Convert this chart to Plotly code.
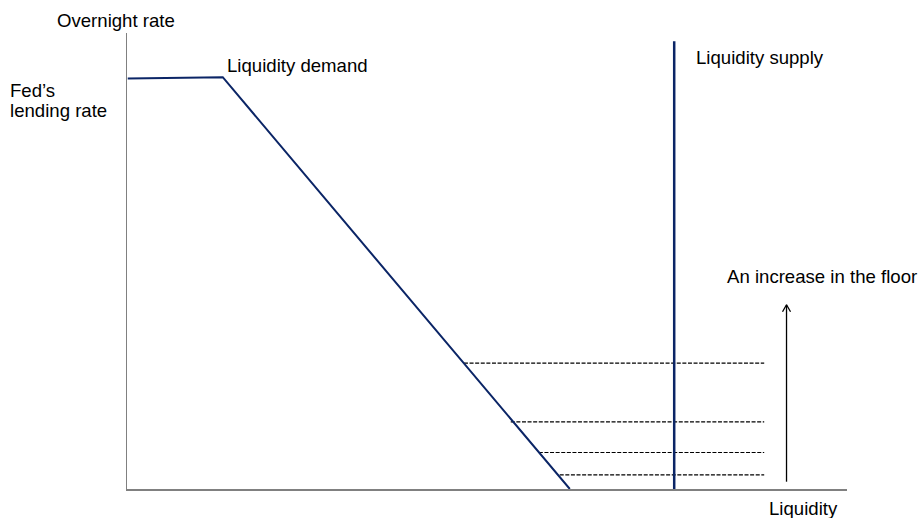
import plotly.graph_objects as go

# ---- data (axis units: x 0..100 liquidity, y 0..100 overnight rate) ----
demand_x = [0.1, 13.3, 61.5]
demand_y = [90.0, 90.3, 0.0]

supply_x = [76.0, 76.0]
supply_y = [0.0, 98.2]

floor_levels = [27.6, 14.7, 8.0, 3.1]
floor_start_x = [46.8, 53.3, 57.2, 60.1]
floor_end_x = 88.5

arrow_x = 91.6
arrow_y0 = 1.6
arrow_y1 = 40.4

NAVY = "#0B2566"
W, H = 921, 518
L, R, T, B = 127, 74, 33, 29
PW, PH = W - L - R, H - T - B
FONT = "Liberation Sans, Arial, sans-serif"

fig = go.Figure()

for y, x0 in zip(floor_levels, floor_start_x):
    fig.add_trace(go.Scatter(x=[x0, floor_end_x], y=[y, y], mode="lines",
                             line=dict(color="black", width=1.2, dash="4px,1.6px"),
                             hoverinfo="skip", showlegend=False))

fig.add_trace(go.Scatter(x=demand_x, y=demand_y, mode="lines",
                         line=dict(color=NAVY, width=2), showlegend=False,
                         cliponaxis=False))
fig.add_trace(go.Scatter(x=supply_x, y=supply_y, mode="lines",
                         line=dict(color=NAVY, width=2.5), showlegend=False,
                         cliponaxis=False))

# arrow shaft
fig.add_trace(go.Scatter(x=[arrow_x, arrow_x], y=[arrow_y0, arrow_y1], mode="lines",
                         line=dict(color="black", width=1.3), showlegend=False))
# arrow head (open chevron)
px_x = 100 / PW
px_y = 100 / PH
fig.add_trace(go.Scatter(x=[arrow_x - 4 * px_x, arrow_x, arrow_x + 4 * px_x],
                         y=[arrow_y1 - 7 * px_y, arrow_y1, arrow_y1 - 7 * px_y],
                         mode="lines", line=dict(color="black", width=1.3),
                         showlegend=False))


def scr2paper_x(p):
    return (p - L) / PW


def scr2paper_y(p):
    return (H - B - p) / PH


labels = [
    ("Overnight rate", 55, 20),
    ("Fed\u2019s", 8, 91),
    ("lending rate", 8, 111),
    ("Liquidity demand", 225, 65),
    ("Liquidity supply", 694, 57.5),
    ("An increase in the floor", 725, 276.5),
    ("Liquidity", 767, 508.5),
]
for text, xp, yp in labels:
    fig.add_annotation(x=scr2paper_x(xp), y=scr2paper_y(yp), xref="paper", yref="paper",
                       text=text, showarrow=False,
                       xanchor="left", yanchor="middle",
                       font=dict(family=FONT, size=18.6, color="black"))

axis_common = dict(showgrid=False, zeroline=False, showticklabels=False,
                   ticks="", showline=True, linecolor="#808080", linewidth=1.5)
fig.update_xaxes(range=[0, 100], fixedrange=True, **axis_common)
fig.update_yaxes(range=[0, 100], fixedrange=True, **axis_common)

fig.update_layout(width=W, height=H, margin=dict(l=L, r=R, t=T, b=B),
                  plot_bgcolor="white", paper_bgcolor="white",
                  font=dict(family=FONT), hovermode=False)

fig.write_html("out.html", config={"displayModeBar": False, "staticPlot": True},
               post_script="document.body.style.margin='0';document.body.style.overflow='hidden';")
